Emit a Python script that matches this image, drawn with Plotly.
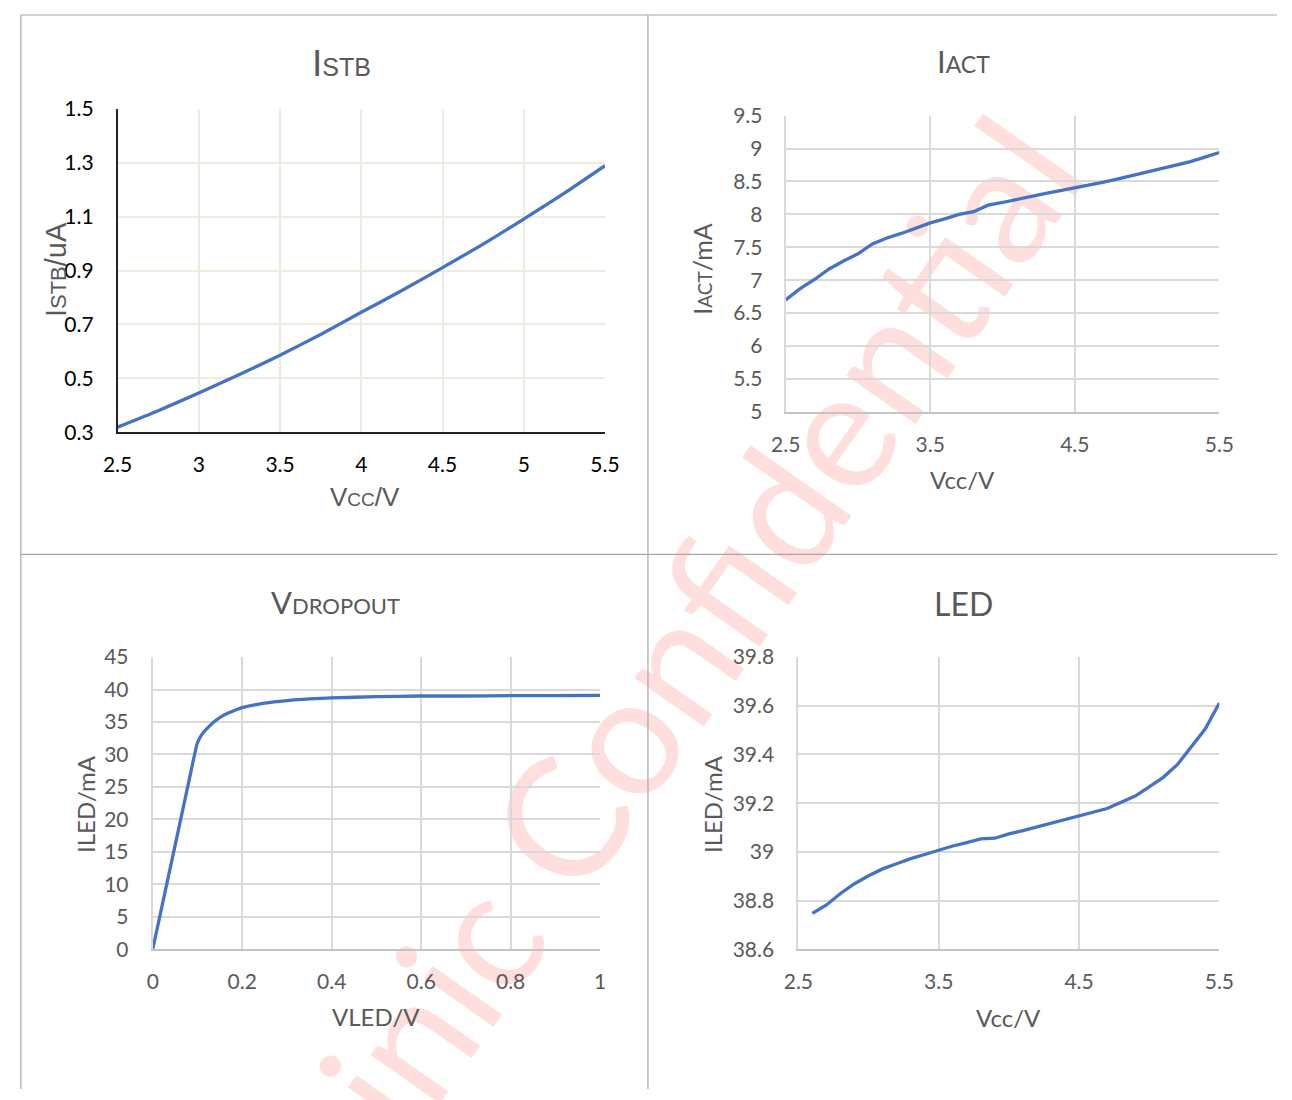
import plotly.graph_objects as go

W, H = 1292, 1100

# ---------------- data ----------------
istb_vcc = [2.5, 2.75, 3.0, 3.25, 3.5, 3.75, 4.0, 4.25, 4.5, 4.75, 5.0, 5.25, 5.5]
istb_ua = [0.319, 0.380, 0.446, 0.514, 0.586, 0.663, 0.745, 0.826, 0.911, 0.998, 1.091, 1.187, 1.289]

iact_vcc = [2.5, 2.6, 2.7, 2.8, 2.9, 3.0, 3.1, 3.2, 3.3, 3.4, 3.5, 3.6, 3.7, 3.8, 3.9, 4.0,
            4.1, 4.2, 4.3, 4.4, 4.5, 4.6, 4.7, 4.8, 4.9, 5.0, 5.1, 5.2, 5.3, 5.4, 5.5]
iact_ma = [6.70, 6.87, 7.01, 7.17, 7.29, 7.40, 7.55, 7.64, 7.71, 7.79, 7.87, 7.93, 8.00, 8.04, 8.14, 8.18,
           8.23, 8.27, 8.32, 8.36, 8.40, 8.45, 8.49, 8.54, 8.59, 8.64, 8.69, 8.74, 8.80, 8.87, 8.94]

vled_v = [0, 0.02, 0.04, 0.06, 0.08, 0.1, 0.11, 0.12, 0.14, 0.16, 0.18, 0.2, 0.25, 0.3, 0.35,
          0.4, 0.5, 0.6, 0.7, 0.8, 0.9, 1.0]
vled_ma = [0, 6.4, 12.8, 19.2, 25.6, 31.8, 33.1, 33.9, 35.2, 36.1, 36.7, 37.2, 37.9, 38.3, 38.55,
           38.7, 38.9, 39.0, 39.0, 39.05, 39.05, 39.1]

led_vcc = [2.6, 2.7, 2.8, 2.9, 3.0, 3.1, 3.2, 3.3, 3.4, 3.5, 3.6, 3.7, 3.8, 3.9, 4.0,
           4.1, 4.2, 4.3, 4.4, 4.5, 4.6, 4.7, 4.8, 4.9, 5.0, 5.1, 5.2, 5.3, 5.4, 5.5]
led_ma = [38.747, 38.782, 38.829, 38.869, 38.902, 38.930, 38.951, 38.972, 38.989, 39.007,
          39.024, 39.038, 39.053, 39.056, 39.074, 39.087, 39.102, 39.116, 39.131, 39.147,
          39.161, 39.178, 39.204, 39.229, 39.267, 39.306, 39.358, 39.431, 39.505, 39.611]

watermark_text = "inic Confidential"

# ---------------- helpers ----------------
def px(x):
    return x / W

def py(y):
    return 1 - y / H

BLUE = "#4472C4"
GRAY_TXT = "#595959"
CAL = "Lato, 'Open Sans', sans-serif"
ARI = "'Liberation Sans', Arial, sans-serif"

fig = go.Figure()
fig.add_trace(go.Scatter(x=istb_vcc, y=istb_ua, mode="lines", line=dict(color=BLUE, width=3.3, shape="spline", smoothing=0.6),
                         xaxis="x", yaxis="y", showlegend=False, hoverinfo="skip"))
fig.add_trace(go.Scatter(x=iact_vcc, y=iact_ma, mode="lines", line=dict(color=BLUE, width=3.3),
                         xaxis="x2", yaxis="y2", showlegend=False, hoverinfo="skip"))
fig.add_trace(go.Scatter(x=vled_v, y=vled_ma, mode="lines", line=dict(color=BLUE, width=3.3, shape="spline", smoothing=0.5),
                         xaxis="x3", yaxis="y3", showlegend=False, hoverinfo="skip"))
fig.add_trace(go.Scatter(x=led_vcc, y=led_ma, mode="lines", line=dict(color=BLUE, width=3.3),
                         xaxis="x4", yaxis="y4", showlegend=False, hoverinfo="skip"))

TICK_SIZE = 21
XSTAND = 13
YSTAND = 18

def gray_axis(domain, rng, tick0, dtick, anchor, is_x):
    d = dict(domain=domain, range=rng, tick0=tick0, dtick=dtick, anchor=anchor,
             showgrid=True, gridcolor="#D9D9D9", gridwidth=2, zeroline=False,
             showline=True, linewidth=2, ticks="",
             tickfont=dict(family=CAL, size=TICK_SIZE, color=GRAY_TXT),
             ticklabelstandoff=XSTAND if is_x else YSTAND, fixedrange=True)
    d["linecolor"] = "#C4C4C4" if is_x else "#D9D9D9"
    return d

layout = dict(
    width=W, height=H, margin=dict(l=0, r=0, t=0, b=0),
    paper_bgcolor="white", plot_bgcolor="rgba(0,0,0,0)", showlegend=False,
    xaxis=dict(domain=[px(105), px(604)], range=[2.5, 5.5], tick0=2.5, dtick=0.5, anchor="y",
               showgrid=True, gridcolor="#EEEBDF", gridwidth=1.5, zeroline=False,
               showline=True, linecolor="#222222", linewidth=1.5, ticks="",
               tickfont=dict(family=CAL, size=TICK_SIZE, color="#000000"), ticklabelstandoff=XSTAND, fixedrange=True),
    yaxis=dict(domain=[py(428), py(97)], range=[0.3, 1.5], tick0=0.3, dtick=0.2, anchor="x",
               showgrid=True, gridcolor="#EEEBDF", gridwidth=1.5, zeroline=False,
               showline=True, linecolor="#222222", linewidth=1.5, ticks="",
               tickfont=dict(family=CAL, size=TICK_SIZE, color="#000000"), ticklabelstandoff=YSTAND, fixedrange=True),
    xaxis2=gray_axis([px(789), px(1233)], [2.5, 5.5], 2.5, 1, "y2", True),
    yaxis2=gray_axis([py(407), py(104)], [5, 9.5], 5, 0.5, "x2", False),
    xaxis3=gray_axis([px(141), px(599)], [0, 1], 0, 0.2, "y3", True),
    yaxis3=gray_axis([py(957), py(658)], [0, 45], 0, 5, "x3", False),
    xaxis4=gray_axis([px(802), px(1233)], [2.5, 5.5], 2.5, 1, "y4", True),
    yaxis4=gray_axis([py(957), py(658)], [38.6, 39.8], 38.6, 0.2, "x4", False),
)
layout["yaxis2"]["ticklabelstandoff"] = YSTAND - 1
fig.update_layout(**layout)

# ---------------- annotations (titles) ----------------
def ann(text, x, y, family, size, color=GRAY_TXT, angle=0):
    fig.add_annotation(text=text, x=px(x), y=py(y), xref="paper", yref="paper",
                       xanchor="center", yanchor="middle", showarrow=False, textangle=angle,
                       font=dict(family=family, size=size, color=color))

def sz(t, s):
    return f"<span style='font-size:{s}px'>{t}</span>"

# Panel 1
ann("I" + sz("STB", 25), 334, 51, ARI, 37)
ann("V" + sz("CC", 19) + "/V", 358, 494, ARI, 26)
ann("I" + sz("STB", 22) + "/uA", 42, 262, ARI, 29, angle=-90)
# Panel 2
ann("I" + sz("ACT", 23), 971, 48, CAL, 31)
ann("Vcc/V", 970, 476, CAL, 24)
ann("I" + sz("ACT", 19) + "/mA", 703, 261, CAL, 25, angle=-90)
# Panel 3
ann("V" + sz("DROPOUT", 22), 328, 602, CAL, 31)
ann("VLED/V", 370, 1026, CAL, 24)
ann("ILED/mA", 72, 808, CAL, 24, angle=-90)
# Panel 4
ann("LED", 971, 603, CAL, 32)
ann("Vcc/V", 1017, 1027, CAL, 24)
ann("ILED/mA", 714, 808, CAL, 24, angle=-90)

# ---------------- panel borders ----------------
BORDER = "#A6A6A6"
for (x0, y0, x1, y1) in [(6, 1, 6, 1100), (6, 1, 1292, 1), (648, 1, 648, 1100), (6, 553, 1292, 553)]:
    fig.add_shape(type="line", xref="paper", yref="paper", x0=px(x0), y0=py(y0), x1=px(x1), y1=py(y1),
                  line=dict(color=BORDER, width=1.2), layer="above")

# ---------------- watermark (below traces) ----------------
cx, cy = 697, 622
fig.add_shape(type="rect", xref="paper", yref="paper", x0=px(cx - 2), x1=px(cx + 2), y0=py(cy + 2), y1=py(cy - 2),
              line=dict(width=0), fillcolor="rgba(0,0,0,0)", layer="below",
              label=dict(text=watermark_text, textangle=-55, textposition="middle center",
                         font=dict(family=CAL, size=167, color="rgba(255,0,0,0.13)")))

post = ("document.documentElement.style.margin='0';document.documentElement.style.padding='0';"
        "document.body.style.margin='0';document.body.style.padding='0';"
        "document.documentElement.style.overflow='hidden';document.body.style.overflow='hidden';")
fig.write_html("out.html", post_script=post, config={"displayModeBar": False})
